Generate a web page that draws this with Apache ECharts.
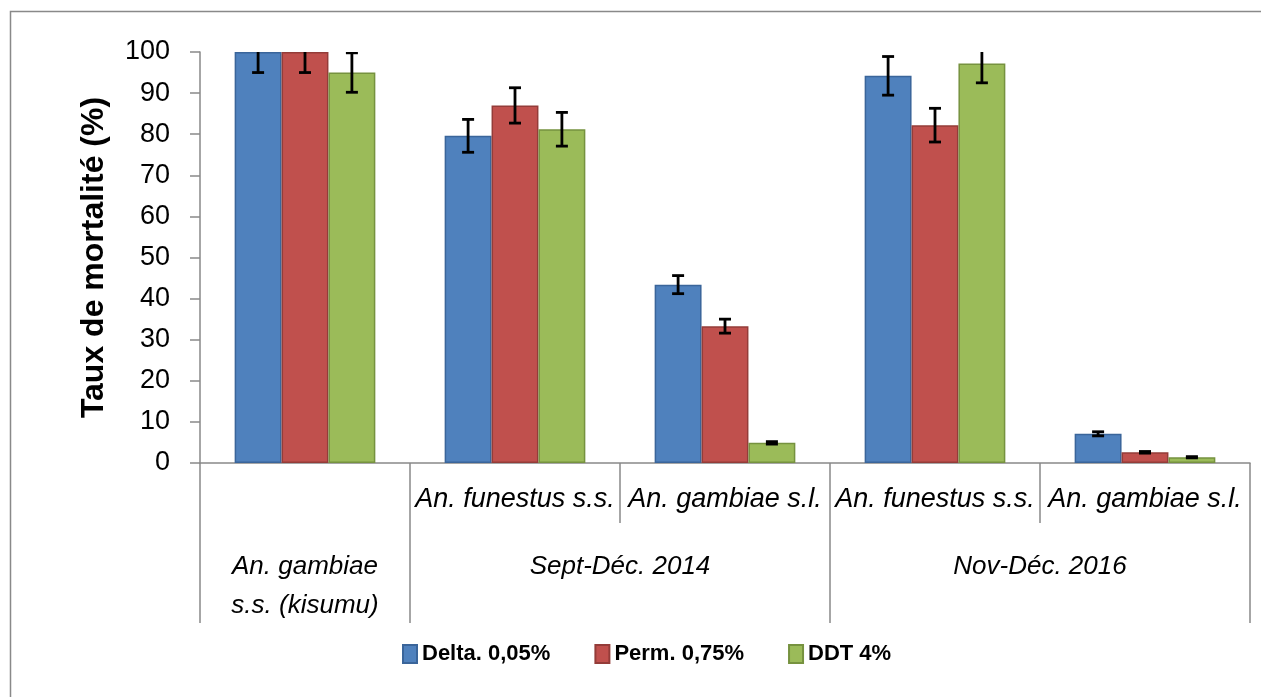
<!DOCTYPE html>
<html>
<head>
<meta charset="utf-8">
<script src="https://cdn.jsdelivr.net/npm/echarts@6/dist/echarts.min.js"></script>
<style>
  html, body { margin: 0; padding: 0; background: #fff; }
  #chart { width: 1261px; height: 697px; }
</style>
</head>
<body>
<div id="chart"></div>
<script>
// species row (first level of the x axis)
const categories = ['', 'An. funestus s.s.', 'An. gambiae s.l.', 'An. funestus s.s.', 'An. gambiae s.l.']
// period row, on half-category slots (11 slots, 0..10)
const periodLabels = ['', 'An. gambiae\ns.s. (kisumu)', '', '', 'Sept-Déc. 2014', '', '', '', 'Nov-Déc. 2016', '', '']
const periodTicks = [0, 2, 6, 10]

const seriesNames = ['Delta. 0,05%', 'Perm. 0,75%', 'DDT 4%']
const delta = [100, 79.6, 43.4, 94.2, 7.1]
const deltaErr = [5, 4, 2.2, 4.7, 0.5]
const perm = [100, 87.0, 33.3, 82.2, 2.6]
const permErr = [5, 4.3, 1.7, 4.1, 0.2]
const ddt = [95, 81.2, 4.9, 97.2, 1.4]
const ddtErr = [4.8, 4.1, 0.3, 4.7, 0.15]

const yTicks = [0, 100, 10] // min, max, interval

const colors = ['#4F81BD', '#C0504D', '#9BBB59']
const borders = ['#3A659A', '#943C39', '#76923F']
const FONT = "'Liberation Sans', Arial, sans-serif"
const GAP = 0.33

const values = [delta, perm, ddt]
const errors = [deltaErr, permErr, ddtErr]

const barSeries = values.map((vals, i) => ({
  name: seriesNames[i],
  type: 'bar',
  data: vals,
  barGap: '0%',
  barCategoryGap: (GAP * 100) + '%',
  itemStyle: { color: colors[i], borderColor: borders[i], borderWidth: 1.5 },
  emphasis: { disabled: true }
}))

const errSeries = values.map((vals, i) => ({
  name: 'err' + i,
  type: 'custom',
  clip: true,
  z: 5,
  data: vals.map((v, k) => [k, v, errors[i][k]]),
  encode: { x: 0, y: 1 },
  renderItem: (params, api) => {
    const k = api.value(0)
    const v = api.value(1)
    const e = api.value(2)
    const band = api.size([1, 0])[0]
    const barW = band * (1 - GAP) / 3
    const hi = api.coord([k, v + e])
    const lo = api.coord([k, v - e])
    const x = hi[0] + (i - 1) * barW
    const cap = 6
    const style = { stroke: '#000', lineWidth: 2.8 }
    return {
      type: 'group',
      children: [
        { type: 'line', shape: { x1: x, y1: hi[1], x2: x, y2: lo[1] }, style },
        { type: 'line', shape: { x1: x - cap, y1: hi[1], x2: x + cap, y2: hi[1] }, style },
        { type: 'line', shape: { x1: x - cap, y1: lo[1], x2: x + cap, y2: lo[1] }, style }
      ]
    }
  }
}))

const chart = echarts.init(document.getElementById('chart'))
chart.setOption({
  animation: false,
  textStyle: { fontFamily: FONT },
  grid: { left: 200, right: 11, top: 52, bottom: 234, containLabel: false },
  legend: {
    data: seriesNames.map(n => ({ name: n, icon: 'rect' })),
    left: 397,
    top: 638,
    itemWidth: 14,
    itemHeight: 18,
    itemGap: 44,
    selectedMode: false,
    textStyle: { fontFamily: FONT, fontSize: 22, fontWeight: 'bold', color: '#000' }
  },
  xAxis: [{
    type: 'category',
    data: categories,
    axisLine: { lineStyle: { color: '#898989', width: 1.5 } },
    axisTick: { show: true, length: 60, lineStyle: { color: '#898989', width: 1.5 } },
    axisLabel: {
      interval: 0,
      margin: 23,
      fontFamily: FONT,
      fontSize: 27,
      fontStyle: 'italic',
      color: '#000'
    }
  }, {
    type: 'category',
    position: 'bottom',
    offset: 0,
    boundaryGap: false,
    data: periodLabels,
    axisLine: { show: false },
    axisTick: {
      show: true,
      length: 160,
      interval: (idx) => periodTicks.includes(idx),
      lineStyle: { color: '#898989', width: 1.5 }
    },
    axisLabel: {
      interval: 0,
      margin: 84,
      lineHeight: 39,
      fontFamily: FONT,
      fontSize: 26,
      fontStyle: 'italic',
      color: '#000'
    }
  }],
  yAxis: {
    type: 'value',
    min: yTicks[0],
    max: yTicks[1],
    interval: yTicks[2],
    name: 'Taux de mortalité (%)',
    nameLocation: 'middle',
    nameGap: 90,
    nameTextStyle: { fontFamily: FONT, fontSize: 32, fontWeight: 'bold', color: '#000' },
    axisLine: { show: true, lineStyle: { color: '#898989', width: 1.5 } },
    axisTick: { show: true, length: 10, lineStyle: { color: '#898989', width: 1.5 } },
    splitLine: { show: false },
    axisLabel: { margin: 30, fontFamily: FONT, fontSize: 27, color: '#000' }
  },
  graphic: [{
    type: 'rect',
    silent: true,
    shape: { x: 10.5, y: 11.5, width: 1400, height: 800 },
    style: { fill: 'none', stroke: '#898989', lineWidth: 1.5 }
  }],
  series: barSeries.concat(errSeries)
})
</script>
</body>
</html>
